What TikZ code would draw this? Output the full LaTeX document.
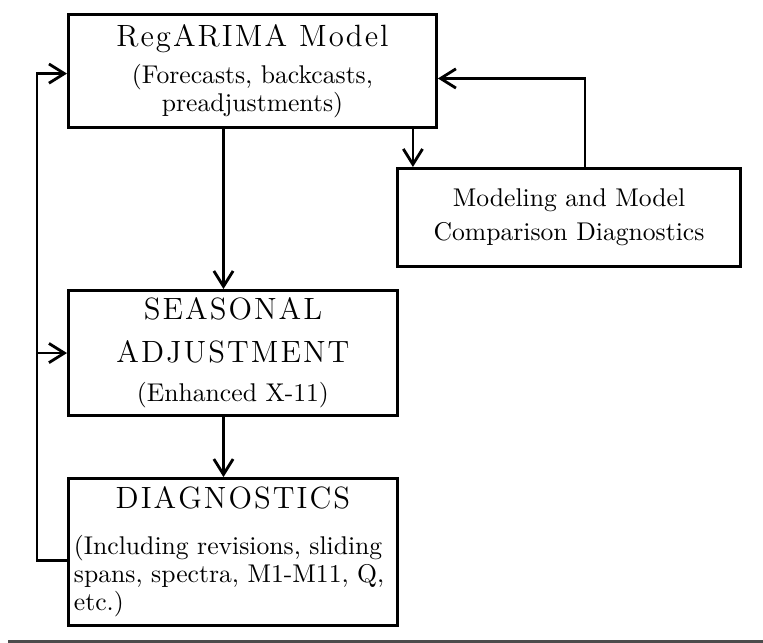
\documentclass[tikz,border=0pt]{standalone}
\usepackage{fontspec}
\usetikzlibrary{positioning,arrows.meta}
% heading words with wider letter spacing
\makeatletter
\newcommand\sparse[1]{\sparse@#1\@nil}
\def\sparse@#1#2\@nil{#1\ifx\relax#2\relax\else\kern0.8pt\sparse@#2\@nil\fi}
\makeatother

\begin{document}
\begin{tikzpicture}[
  x=0.39pt, y=-0.39pt,
  >={Straight Barb[length=6pt,width=7.5pt]},
  box/.style={
    draw, rectangle, line width=1.15pt, inner sep=2pt, align=center,
    font=\fontsize{10}{11}\selectfont
  },
  arr/.style={->, line width=1.1pt},
  rule/.style={draw=black!70, line width=0.8pt}
]
\useasboundingbox (0,0) rectangle (763,643);

\node[box, anchor=north west, minimum width=143.5pt, minimum height=44.1pt]
  (reg) at (67,13)
  {{\large\sparse{RegARIMA}\ \kern0.8pt\sparse{Model}}\\[3.4pt]
  (Forecasts, backcasts,\\ preadjustments)};
\node[box, anchor=north west, minimum width=133.8pt, minimum height=38.2pt]
  (model) at (396,167) {Modeling and Model\\[2.3pt] Comparison Diagnostics};
\node[box, below=62.4pt of reg.south west, anchor=north west,
  minimum width=128.3pt, minimum height=48.8pt] (seas)
  {{\large\sparse{SEASONAL}}\\[5.8pt] {\large\sparse{ADJUSTMENT}}\\[4.2pt]
  (Enhanced X-11)};
\node[box, below=23.4pt of seas.south west, anchor=north west,
  minimum width=128.3pt, minimum height=57.3pt, text width=124pt, align=left]
  (diag) {\makebox[124pt]{\large\sparse{DIAGNOSTICS}}\\[6.9pt]
  (Including revisions, sliding\\ spans, spectra, M1-M11, Q,\\ etc.)};

\draw[arr] ([xshift=-3.7pt]seas.north |- reg.south) -- ([xshift=-3.7pt]seas.north);
\draw[arr] ([xshift=-3.7pt]seas.south) -- ([xshift=-3.7pt]seas.south |- diag.north);
\draw[arr] ([xshift=6.6pt]model.north west |- reg.south) -- ([xshift=6.6pt]model.north west);
\draw[arr] ([xshift=73.7pt]model.north west) |- ([yshift=-2.9pt]reg.east);
\draw[arr] ([yshift=-3.3pt]diag.west) -- ++(-11.7pt,0) coordinate (loop)
  |- ([yshift=-1pt]reg.west);
\draw[arr] (loop |- seas.west) -- (seas.west);

\draw[rule] (8,641.5) -- (763,641.5);
\end{tikzpicture}
\end{document}
